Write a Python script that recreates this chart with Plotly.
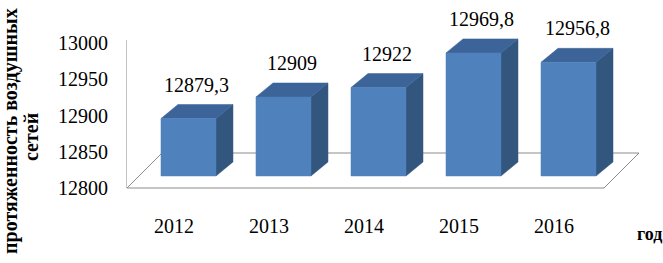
import plotly.graph_objects as go

# ---- data ----
years = ["2012", "2013", "2014", "2015", "2016"]
values = [12879.3, 12909, 12922, 12969.8, 12956.8]
value_labels = ["12879,3", "12909", "12922", "12969,8", "12956,8"]
y_ticks = [12800, 12850, 12900, 12950, 13000]
y_title_lines = ["протяженность воздушных", "сетей"]
x_title = "год"

# ---- pseudo-3D projection constants (in axis units) ----
PX_X = 95.0          # pixels per category
PX_V = 0.725         # pixels per value unit
V0 = 12800           # floor value
BAR_DX = 14.5 / PX_X     # bar front-face shift to the right
BAR_DV = 12 / PX_V       # bar front-face shift upward
BAR_W = 55 / PX_X        # bar width
DEPTH_DX = 17 / PX_X     # bar depth (x)
DEPTH_DV = 14 / PX_V     # bar depth (value)
FLOOR_L = (127 - 174) / PX_X
FLOOR_R = (604 - 174) / PX_X
FLOOR_DX = 35 / PX_X
FLOOR_DV = 35 / PX_V

FRONT = "#4F81BD"
TOP = "#3C6498"
SIDE = "#33567F"
GRID = "#8C8C8C"
FONT = "Liberation Serif, Times New Roman, serif"

fig = go.Figure()

# floor
fig.add_trace(go.Scatter(
    x=[FLOOR_L, FLOOR_L + FLOOR_DX, FLOOR_R + FLOOR_DX, FLOOR_R, FLOOR_L],
    y=[V0, V0 + FLOOR_DV, V0 + FLOOR_DV, V0, V0],
    mode="lines", fill="toself", fillcolor="white",
    line=dict(color=GRID, width=1), hoverinfo="skip", showlegend=False))

# bar faces
xs = [i + BAR_DX for i in range(len(years))]
base = V0 + BAR_DV
fx, fy, tx, ty, sx, sy = [], [], [], [], [], []
for xc, v in zip(xs, values):
    xl, xr = xc - BAR_W / 2, xc + BAR_W / 2
    top = v + BAR_DV
    fx += [xl, xr, xr, xl, xl, None]
    fy += [base, base, top, top, base, None]
    tx += [xl, xr, xr + DEPTH_DX, xl + DEPTH_DX, xl, None]
    ty += [top, top, top + DEPTH_DV, top + DEPTH_DV, top, None]
    sx += [xr, xr, xr + DEPTH_DX, xr + DEPTH_DX, xr, None]
    sy += [base, top, top + DEPTH_DV, base + DEPTH_DV, base, None]
for px, py, col in ((sx, sy, SIDE), (tx, ty, TOP), (fx, fy, FRONT)):
    fig.add_trace(go.Scatter(x=px, y=py, mode="lines", fill="toself", fillcolor=col,
                             line=dict(width=0.5, color=col), hoverinfo="skip",
                             showlegend=False))

# vertical axis line
fig.add_shape(type="line", x0=FLOOR_L - 0.01, x1=FLOOR_L - 0.01, y0=V0, y1=y_ticks[-1] + 4,
              line=dict(color=GRID, width=1))

# value labels
for xc, v, lab in zip(xs, values, value_labels):
    fig.add_annotation(x=xc + DEPTH_DX / 2, y=v + BAR_DV + DEPTH_DV, text=lab,
                       showarrow=False, yshift=20, yanchor="middle",
                       font=dict(family=FONT, size=20, color="black"))

# axis titles
title_x = [11, 31]
title_y = [131, 137]
for k, line in enumerate(y_title_lines):
    fig.add_annotation(xref="paper", yref="paper", x=(title_x[k] - 126) / 523,
                       y=(190 - title_y[k]) / 190, text=line, textangle=-90,
                       showarrow=False, xanchor="center", yanchor="middle",
                       font=dict(family=FONT, size=20, color="black", weight="bold"))
fig.add_annotation(xref="paper", yref="paper", x=(635 - 126) / 523, y=(190 - 234) / 190,
                   text=x_title, showarrow=False, xanchor="left", yanchor="middle",
                   font=dict(family=FONT, size=18, color="black", weight="bold"))

v_top = V0 + 188 / PX_V
v_bot = V0 - 2 / PX_V
fig.update_layout(
    width=663, height=263,
    margin=dict(l=126, r=14, t=0, b=73),
    paper_bgcolor="white", plot_bgcolor="white",
    font=dict(family=FONT, size=20, color="black"),
    xaxis=dict(range=[-0.505, 5.0], tickmode="array", tickvals=list(range(len(years))),
               ticktext=years, showgrid=False, zeroline=False, showline=False,
               ticks="", ticklabelstandoff=22, fixedrange=True),
    yaxis=dict(range=[v_bot, v_top], tickmode="array", tickvals=y_ticks,
               ticktext=[str(t) for t in y_ticks], showgrid=False, zeroline=False,
               showline=False, ticks="", ticklabelstandoff=17, fixedrange=True),
    showlegend=False,
)

fig.write_html("out.html", config={"displayModeBar": False},
               post_script="document.body.style.margin='0';")
